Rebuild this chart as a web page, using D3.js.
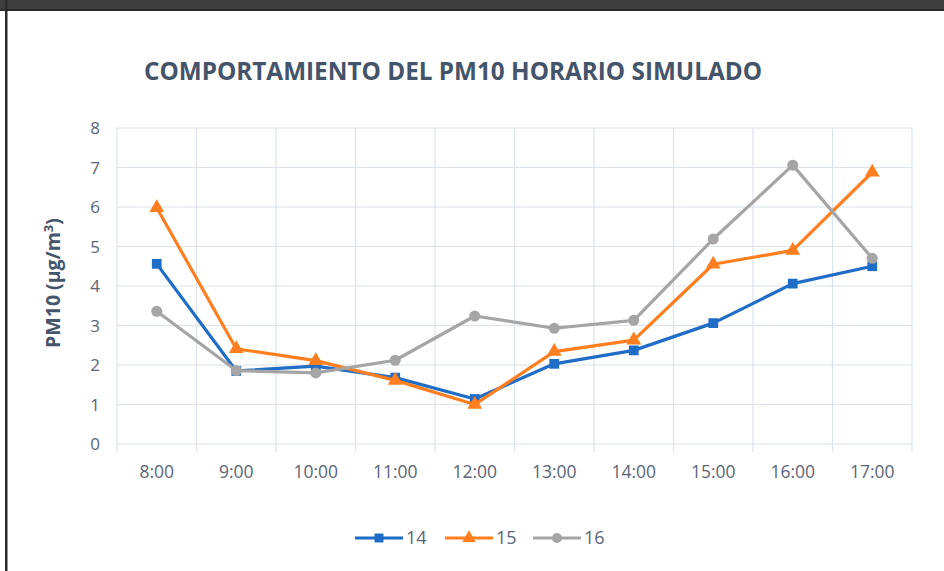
<!DOCTYPE html>
<html><head><meta charset="utf-8">
<script src="https://cdn.jsdelivr.net/npm/d3@7"></script>
<style>
html,body{margin:0;padding:0;background:#fff;}
svg{display:block;}
</style></head>
<body>
<script>
const categories = ["8:00","9:00","10:00","11:00","12:00","13:00","14:00","15:00","16:00","17:00"];
const series14 = [4.56, 1.85, 1.97, 1.68, 1.14, 2.03, 2.37, 3.06, 4.06, 4.5];
const series15 = [5.98, 2.41, 2.11, 1.61, 1.0, 2.34, 2.63, 4.55, 4.9, 6.88];
const series16 = [3.36, 1.86, 1.8, 2.12, 3.24, 2.93, 3.13, 5.19, 7.06, 4.7];
const seriesNames = ["14","15","16"];
const yTicks = [0,1,2,3,4,5,6,7,8];

(function(){
const W = 944, H = 571;
const svg = d3.select("body").append("svg").attr("width", W).attr("height", H);
svg.append("rect").attr("width", W).attr("height", H).attr("fill", "#fff");

// window chrome
svg.append("rect").attr("x",0).attr("y",0).attr("width",W).attr("height",10).attr("fill","#3e3e3e");
svg.append("rect").attr("x",0).attr("y",9).attr("width",W).attr("height",2).attr("fill","#2a2a2a");
svg.append("rect").attr("x",5).attr("y",0).attr("width",2.5).attr("height",H).attr("fill","#2a2a2a");

const mL = 117, mR = 912, mT = 128, mB = 444;
const x = d3.scaleBand().domain(categories).range([mL, mR]);
const y = d3.scaleLinear().domain([0, 8]).range([mB, mT]);

const grid = "#dde3ea";
svg.append("g").selectAll("line").data(yTicks).join("line")
  .attr("x1", mL).attr("x2", mR)
  .attr("y1", d => y(d)).attr("y2", d => y(d))
  .attr("stroke", grid).attr("stroke-width", 1.2);
const bounds = categories.map(c => x(c)).concat([mR]);
svg.append("g").selectAll("line").data(bounds).join("line")
  .attr("x1", d => d).attr("x2", d => d)
  .attr("y1", mT).attr("y2", mB + 8)
  .attr("stroke", grid).attr("stroke-width", 1.2);

const tickColor = "#5b6577";
const font = "'Open Sans', 'Liberation Sans', sans-serif";
svg.append("g").selectAll("text").data(yTicks).join("text")
  .attr("x", 100).attr("y", d => y(d)).attr("dy", "0.36em")
  .attr("text-anchor", "end").attr("font-family", font).attr("font-size", 17)
  .attr("fill", tickColor).text(d => d);
svg.append("g").selectAll("text").data(categories).join("text")
  .attr("x", d => x(d) + x.bandwidth()/2).attr("y", 478)
  .attr("text-anchor", "middle").attr("font-family", font).attr("font-size", 17.5)
  .attr("fill", tickColor).text(d => d);

svg.append("text").attr("x", 453).attr("y", 80).attr("text-anchor", "middle")
  .attr("font-family", font).attr("font-weight", 700).attr("font-size", 24.3)
  .attr("fill", "#44546a").text("COMPORTAMIENTO DEL PM10 HORARIO SIMULADO");

const yt = svg.append("text").attr("transform", "translate(60,283) rotate(-90)")
  .attr("text-anchor", "middle").attr("font-family", font).attr("font-weight", 700)
  .attr("font-size", 19.5).attr("fill", "#44546a");
yt.append("tspan").text("PM10 (µg/m");
yt.append("tspan").attr("dy", -7).attr("font-size", 13).text("3");
yt.append("tspan").attr("dy", 7).text(")");

const colors = ["#1f6dc6", "#ff7f20", "#a5a5a5"];
const data = [series14, series15, series16];
const shapes = [d3.symbolSquare, d3.symbolTriangle, d3.symbolCircle];

const line = d3.line().x((d,i) => x(categories[i]) + x.bandwidth()/2).y(d => y(d));
data.forEach((s, k) => {
  svg.append("path").datum(s).attr("d", line).attr("fill", "none")
    .attr("stroke", colors[k]).attr("stroke-width", 3.2).attr("stroke-linejoin", "round");
  svg.append("g").selectAll("path").data(s).join("path")
    .attr("transform", (d,i) => `translate(${x(categories[i]) + x.bandwidth()/2},${y(d)})`)
    .attr("d", d3.symbol().type(shapes[k]).size(95))
    .attr("fill", colors[k]);
});

const legX = [355, 445, 533];
seriesNames.forEach((n, k) => {
  const g = svg.append("g");
  g.append("line").attr("x1", legX[k]).attr("x2", legX[k] + 48).attr("y1", 538).attr("y2", 538)
    .attr("stroke", colors[k]).attr("stroke-width", 3.2);
  g.append("path").attr("transform", `translate(${legX[k] + 24},538)`)
    .attr("d", d3.symbol().type(shapes[k]).size(80)).attr("fill", colors[k]);
  g.append("text").attr("x", legX[k] + 51).attr("y", 538).attr("dy", "0.36em")
    .attr("font-family", font).attr("font-size", 18).attr("fill", tickColor).text(n);
});
})();
</script>
</body></html>
